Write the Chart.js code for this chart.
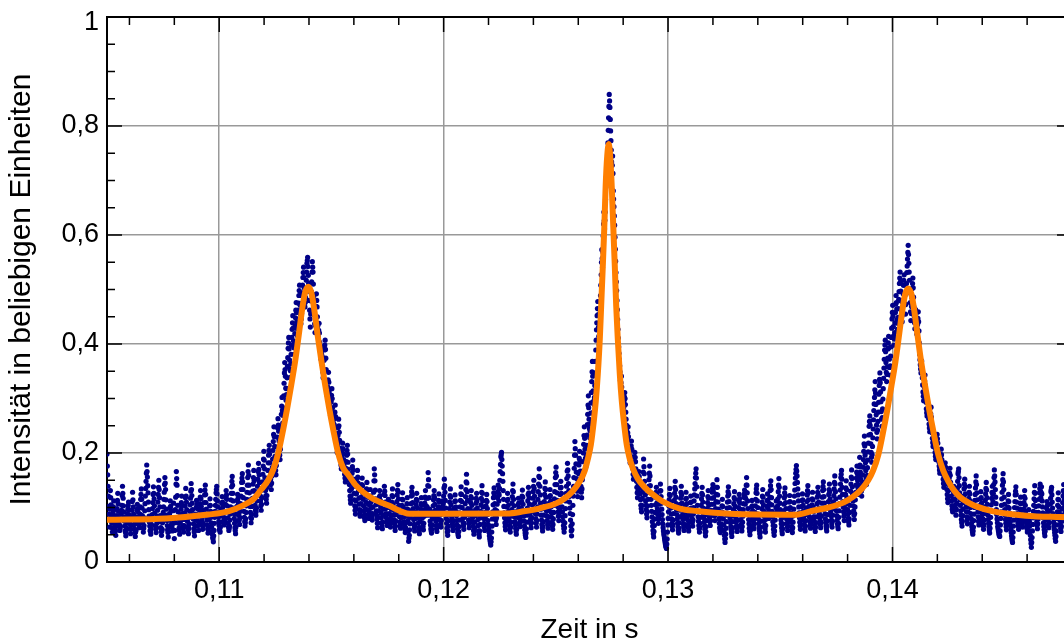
<!DOCTYPE html>
<html lang="de">
<head>
<meta charset="utf-8">
<title>Intensität über der Zeit</title>
<script src="https://cdn.jsdelivr.net/npm/chart.js@4/dist/chart.umd.min.js"></script>
<style>
  html, body { margin: 0; padding: 0; background: #fff; overflow: hidden; }
  #wrap { width: 1064px; height: 644px; overflow: hidden; }
  canvas { display: block; }
</style>
</head>
<body>
<div id="wrap"><canvas id="chart" width="1100" height="647" style="width:1100px;height:647px"></canvas></div>
<script>
// Sample clock of the recorded trace (seconds)
const timeStart = 0.105;
const samplePeriod = 0.000015;

// Recorded intensity in thousandths of the arbitrary unit.
// The record is kept in two halves: even-numbered and odd-numbered samples.
const intensityEvenMilli = [
  198,160,121,88,64,131,105,72,55,90,112,84,61,49,77,98,126,93,70,58,
  66,88,104,139,117,92,75,57,48,63,81,97,110,86,70,52,68,95,128,101,
  79,61,47,58,83,106,92,74,63,88,115,134,99,72,55,67,94,121,148,178,
  156,127,96,73,58,51,69,87,109,138,116,90,66,54,71,95,124,150,118,85,
  63,49,60,82,101,128,155,133,97,76,59,46,65,89,112,94,70,57,81,108,
  43,72,119,166,141,104,80,62,51,74,97,121,89,67,55,78,103,135,110,84,
  65,52,70,93,117,144,122,96,79,61,48,66,88,113,98,75,58,84,107,131,
  102,77,60,71,95,123,141,109,86,68,53,64,90,116,93,72,56,45,37,58,
  82,104,127,139,112,91,74,60,55,73,97,120,101,83,68,79,106,131,115,92,
  71,58,66,88,114,138,157,126,99,80,63,52,75,102,124,109,86,69,93,121,
  146,162,133,104,82,66,79,103,128,155,178,141,114,91,72,88,117,143,168,131,
  104,86,99,126,152,181,160,132,112,95,118,147,176,203,171,140,122,108,137,168,
  196,214,182,151,133,158,189,221,248,212,177,160,194,229,263,240,205,188,226,271,
  302,255,283,328,366,341,297,318,359,392,412,371,339,364,398,427,452,406,381,419,
  448,476,441,415,462,489,508,471,437,456,494,522,541,503,468,485,517,548,559,526,
  497,462,431,479,514,551,532,488,453,421,447,492,468,433,412,438,403,386,372,395,
  361,338,352,389,407,374,333,306,321,348,312,287,269,294,318,283,256,241,263,288,
  247,223,201,232,262,238,209,186,171,195,218,199,178,161,147,172,196,214,183,158,
  142,121,108,134,163,187,152,126,103,88,112,139,168,145,117,96,84,107,131,154,
  127,103,86,76,98,122,146,119,95,80,104,133,110,88,77,101,128,171,149,116,
  94,79,63,82,107,131,113,90,72,61,86,109,139,122,98,81,67,88,115,100,
  78,64,85,110,134,106,87,70,58,75,99,123,142,116,93,73,62,81,104,127,
  101,83,66,54,72,97,118,76,38,49,70,94,121,137,109,88,69,57,80,105,
  126,100,81,63,52,74,96,118,91,72,59,84,108,131,103,86,117,164,139,97,
  75,61,53,68,92,114,131,106,84,67,56,79,101,125,96,77,64,88,112,93,
  121,152,128,99,80,62,49,66,87,110,134,105,83,70,58,76,99,123,101,85,
  68,54,47,65,90,113,138,111,89,72,60,82,107,133,161,129,98,77,63,86,
  109,131,104,81,66,51,62,85,108,126,99,78,57,46,69,93,117,140,112,90,
  71,58,80,103,124,98,76,61,48,39,31,44,66,92,118,136,107,85,69,94,
  118,141,112,135,166,193,201,176,148,115,90,72,59,77,101,126,104,83,67,55,
  73,96,120,143,115,92,74,62,51,70,94,117,99,80,65,87,111,132,106,84,
  66,53,45,61,86,112,137,118,95,78,63,81,105,129,150,121,97,79,64,88,
  115,143,171,139,108,86,69,57,74,98,124,147,119,93,76,62,83,108,133,112,
  91,73,60,79,104,129,155,174,142,113,92,76,97,124,148,126,101,83,67,55,
  72,98,126,153,181,158,131,110,89,66,48,70,104,139,172,221,196,165,141,120,
  146,178,203,167,139,118,151,184,216,248,207,174,196,233,271,305,262,228,254,292,
  331,368,314,276,302,347,389,426,452,478,431,398,436,489,527,573,541,598,642,611,
  642,688,725,703,769,815,858,834,791,756,712,745,681,652,618,574,531,498,463,427,
  395,372,349,318,341,302,284,273,296,311,289,262,241,226,248,213,197,182,205,222,
  193,171,152,168,201,184,159,137,118,143,166,148,125,104,92,117,141,189,162,134,
  112,96,81,103,128,151,176,140,115,93,74,58,46,67,91,119,137,109,87,71,
  94,118,143,120,97,78,63,52,44,36,29,25,42,68,92,114,135,110,88,71,
  59,77,101,126,148,119,96,79,64,53,72,95,117,139,108,87,70,58,81,104,
  128,107,85,69,57,74,98,121,99,80,66,88,112,134,155,171,138,104,83,67,
  55,71,93,116,137,110,89,73,60,48,65,87,109,131,104,82,67,85,106,128,
  142,118,95,76,98,124,151,123,97,79,63,54,70,92,115,90,68,49,36,51,
  74,99,121,138,111,89,72,59,47,63,85,107,129,102,81,66,56,77,100,124,
  108,86,69,57,73,96,119,132,106,128,155,127,98,78,62,50,67,90,113,94,
  75,61,80,103,127,141,112,88,71,58,46,64,87,110,133,105,84,68,55,79,
  102,125,99,80,107,131,149,118,93,74,60,49,66,89,112,88,103,129,153,121,
  96,77,63,52,70,94,118,136,109,87,71,58,75,98,122,100,81,65,54,73,
  97,121,144,163,177,158,134,112,90,73,60,79,102,125,104,84,68,57,76,99,
  123,140,114,91,74,62,81,105,128,101,83,67,56,72,95,119,137,110,89,76,
  63,84,108,131,147,120,97,79,66,57,75,99,124,143,116,93,77,64,86,110,
  134,158,129,103,85,70,61,82,107,132,155,168,137,111,92,76,99,124,149,118,
  96,80,68,91,117,143,169,138,112,94,78,101,128,154,176,149,124,158,192,165,
  139,121,147,174,203,231,196,168,142,159,187,218,249,268,234,201,183,212,244,278,
  302,331,289,251,226,258,293,324,347,312,276,249,281,318,356,389,407,366,331,358,
  391,414,372,343,378,412,446,471,432,398,421,458,489,464,427,449,482,511,532,497,
  462,441,476,508,527,489,455,492,531,556,581,548,517,476,443,469,502,521,486,451,
  428,463,447,418,436,459,424,381,362,347,369,338,312,296,321,343,305,281,268,292,
  274,253,239,261,284,248,227,212,235,219,201,188,209,234,218,193,176,163,184,207,
  188,171,152,137,159,182,166,143,124,109,131,154,172,146,121,103,92,115,139,126,
  104,86,108,135,162,171,140,114,94,78,66,85,109,134,152,125,101,83,70,92,
  117,139,112,89,71,59,51,64,88,113,136,158,127,102,83,68,80,104,129,108,
  88,72,60,77,101,125,146,118,95,78,64,53,71,94,117,139,111,142,169,147,
  119,96,79,65,57,50,47,68,92,116,141,162,133,106,86,71,59,78,101,124,
  99,81,66,54,43,36,55,77,100,123,138,110,89,72,60,74,97,119,96,79,
  64,86,109,131,104,83,68,55,73,96,75,57,41,27,45,69,93,116,140,113,
  91,74,61,79,103,127,143,118,138,112,90,72,59,48,66,88,111,95,77,63,
  82,106,129,137,110,89,73,60,49,38,57,80,104,127,101,84,69,56,75,98,
  121,142,115,92,74,61,52,70,94,118,99,80,66,87
];
const intensityOddMilli = [
  176,139,102,79,97,118,86,63,74,101,96,70,57,66,85,113,107,80,66,62,
  79,95,122,126,103,83,66,54,58,72,89,104,96,78,61,60,82,111,114,88,
  69,54,55,71,95,98,81,68,77,101,124,115,85,63,62,81,107,135,163,166,
  140,110,84,66,56,61,78,98,124,126,103,78,60,63,84,110,137,133,101,74,
  56,57,72,91,115,142,145,114,86,67,54,56,77,100,102,81,64,70,94,76,
  58,96,143,153,122,92,71,58,63,86,109,104,78,62,67,90,118,121,96,75,
  59,62,82,105,130,133,108,87,70,55,58,77,100,105,86,67,72,95,119,116,
  89,68,66,84,109,132,124,97,77,61,59,78,103,104,82,64,51,42,48,71,
  93,115,133,125,101,82,67,58,64,85,108,110,92,76,74,92,118,123,103,81,
  64,62,77,101,126,148,141,112,89,71,58,64,88,113,116,97,77,81,107,133,
  154,147,118,93,74,72,91,115,141,166,159,127,102,82,80,102,130,155,149,117,
  95,92,112,139,166,170,146,122,103,106,132,161,189,187,155,131,115,122,152,182,
  205,198,166,142,145,173,205,234,230,194,168,177,211,246,251,222,196,207,248,286,
  278,269,305,347,353,319,307,338,375,402,391,355,351,381,412,439,429,393,400,433,
  462,458,428,438,475,498,489,454,446,475,508,531,522,485,476,501,532,553,542,511,
  480,446,455,496,532,541,510,470,437,434,469,480,450,422,425,420,394,379,383,378,
  349,345,370,398,390,353,319,313,334,330,299,278,281,306,300,269,248,252,275,267,
  235,212,216,247,250,223,197,178,183,206,208,188,169,154,159,184,205,198,170,150,
  131,114,121,148,175,169,139,114,95,100,125,153,156,131,106,90,95,119,142,140,
  115,94,81,87,110,134,132,107,87,92,118,121,99,82,89,114,149,160,132,105,
  86,71,72,94,119,122,101,81,66,73,97,124,130,110,89,74,77,101,107,89,
  71,74,97,122,120,96,78,64,66,87,111,132,129,104,83,67,71,92,115,114,
  92,74,60,63,84,107,97,57,44,59,82,107,129,123,98,78,63,68,92,115,
  113,90,72,57,63,85,107,104,81,65,71,96,119,117,94,101,140,151,118,86,
  68,57,60,80,103,122,118,95,75,61,67,90,113,110,86,70,76,100,102,107,
  136,140,113,89,71,55,57,76,98,122,119,94,76,64,67,88,111,112,93,76,
  61,50,56,77,101,125,124,100,80,66,71,94,120,147,145,113,87,70,74,97,
  120,117,92,73,58,56,73,96,117,112,88,67,51,57,81,105,128,126,101,80,
  64,69,91,113,111,87,68,54,43,35,37,55,79,105,127,121,96,77,81,106,
  129,126,123,150,179,197,188,162,131,102,81,65,68,89,113,115,93,75,61,64,
  84,108,131,129,103,83,68,56,60,82,105,108,89,72,76,99,121,119,95,75,
  59,49,53,73,99,124,127,106,86,70,72,93,117,139,135,109,88,71,76,101,
  129,157,155,123,97,77,63,65,86,111,135,133,106,84,69,72,95,120,122,101,
  82,66,69,91,116,142,164,158,127,102,84,86,110,136,137,113,92,75,61,63,
  85,112,139,167,169,144,120,99,77,57,59,87,121,155,196,208,180,153,130,133,
  162,190,185,153,128,134,167,200,232,227,190,185,214,252,288,283,245,241,273,311,
  349,341,295,289,324,368,407,439,465,454,414,417,462,508,550,557,569,620,626,627,
  665,706,714,736,792,836,846,812,773,734,728,713,666,635,596,552,514,480,445,411,
  383,360,333,329,321,293,278,284,303,300,275,251,233,237,230,205,189,193,213,207,
  182,161,160,184,192,171,148,127,130,154,157,136,114,98,104,129,165,175,148,123,
  104,88,92,115,139,163,158,127,104,83,66,52,56,79,105,128,123,98,79,82,
  106,130,131,108,87,70,57,48,40,32,27,33,55,80,103,124,122,99,79,65,
  68,89,113,137,133,107,87,71,58,62,83,106,128,123,97,78,64,69,92,116,
  117,96,77,63,65,86,109,110,89,73,77,100,123,144,163,154,121,93,75,61,
  63,82,104,126,123,99,81,66,54,56,76,98,120,117,93,74,76,95,117,135,
  130,106,85,87,111,137,137,110,88,71,58,62,81,103,102,79,58,42,43,62,
  86,110,129,124,100,80,65,53,55,74,96,118,115,91,73,61,66,88,112,116,
  97,77,63,65,84,107,125,119,117,141,141,112,88,70,56,58,78,101,103,84,
  68,70,91,115,134,126,100,79,64,52,55,75,98,121,119,94,76,61,67,90,
  113,112,89,93,119,140,133,105,83,67,54,57,77,100,100,95,116,141,137,108,
  86,70,57,61,82,106,127,122,98,79,64,66,86,110,111,90,73,59,63,85,
  109,132,154,170,167,146,123,101,81,66,69,90,113,114,94,76,62,66,87,111,
  131,127,102,82,68,71,93,116,114,92,75,61,64,83,107,128,123,99,82,69,
  73,96,119,139,133,108,88,72,61,66,87,111,133,129,104,85,70,75,98,122,
  146,143,116,94,77,65,71,94,119,143,161,152,124,101,84,87,111,136,133,107,
  88,74,79,104,130,156,153,125,103,86,89,114,141,165,162,136,141,175,178,152,
  130,134,160,188,217,213,182,155,150,173,202,233,258,251,217,192,197,228,261,290,
  316,310,270,238,242,275,308,335,329,294,262,265,299,337,372,398,386,348,344,374,
  402,393,357,360,395,429,458,451,415,409,439,473,476,445,438,465,496,521,514,479,
  451,458,492,517,508,472,473,511,543,568,564,532,496,459,456,485,511,503,468,439,
  445,455,432,427,447,441,402,371,354,358,353,325,304,308,332,324,293,274,280,283,
  263,246,250,272,266,237,219,223,227,210,194,198,221,226,205,184,169,173,195,197,
  179,161,144,148,170,174,154,133,116,120,142,163,159,133,112,97,103,127,132,115,
  95,97,121,148,166,155,127,104,86,72,75,97,121,143,138,113,92,76,81,104,
  128,125,100,80,65,55,57,76,100,124,147,142,114,92,75,74,92,116,118,98,
  80,66,68,89,113,135,132,106,86,71,58,62,82,105,128,125,126,155,158,133,
  107,87,72,61,53,48,57,80,104,128,151,147,119,96,78,65,68,89,112,111,
  90,73,60,48,39,45,66,88,111,130,124,99,80,66,67,85,108,107,87,71,
  75,97,120,117,93,75,61,64,84,85,66,49,34,36,57,81,104,128,126,102,
  82,67,70,91,115,135,130,128,125,101,81,65,53,57,77,99,103,86,70,72,
  94,117,133,123,99,81,66,54,43,47,68,92,115,114,92,76,62,65,86,109,
  131,128,103,83,67,56,61,82,106,108,89,73,76,80
];

// Fitted curve (three peaks on a flat background)
const fitTime = [
  0.10500, 0.10764, 0.10951, 0.11040, 0.11107, 0.11152, 0.11187, 0.11218, 0.11241, 0.11263,
  0.11285, 0.11303, 0.11321, 0.11339, 0.11354, 0.11370, 0.11383, 0.11397, 0.11410, 0.11423,
  0.11439, 0.11455, 0.11472, 0.11490, 0.11508, 0.11530, 0.11553, 0.11575, 0.11606, 0.11642,
  0.11686, 0.11753, 0.11849, 0.12004, 0.12281,
  0.12357, 0.12428, 0.12504, 0.12540, 0.12575, 0.12607, 0.12629, 0.12642, 0.12656, 0.12669,
  0.12678, 0.12687, 0.12696, 0.12702, 0.12709, 0.12716, 0.12722, 0.12729, 0.12736, 0.12742,
  0.12749, 0.12756, 0.12763, 0.12769, 0.12776, 0.12785, 0.12794, 0.12803, 0.12816, 0.12829,
  0.12843, 0.12865, 0.12896, 0.12932, 0.12976, 0.13052, 0.13128, 0.13275, 0.13571,
  0.13645, 0.13714, 0.13781, 0.13825, 0.13861, 0.13892, 0.13914, 0.13937, 0.13959, 0.13977,
  0.13995, 0.14013, 0.14028, 0.14044, 0.14057, 0.14070, 0.14084, 0.14097, 0.14113, 0.14128,
  0.14146, 0.14164, 0.14182, 0.14204, 0.14226, 0.14249, 0.14275, 0.14302, 0.14338, 0.14373,
  0.14449, 0.14596, 0.14746, 0.14800
];
const fitIntensity = [
  0.0775, 0.080, 0.087, 0.093, 0.104, 0.115, 0.133, 0.150, 0.170, 0.200,
  0.243, 0.282, 0.325, 0.370, 0.415, 0.465, 0.495, 0.505, 0.495, 0.465,
  0.415, 0.370, 0.325, 0.282, 0.243, 0.200, 0.172, 0.160, 0.142, 0.128,
  0.116, 0.104, 0.0885, 0.0885, 0.089,
  0.093, 0.0985, 0.108, 0.117, 0.130, 0.148, 0.168, 0.188, 0.215, 0.258,
  0.295, 0.345, 0.410, 0.470, 0.540, 0.615, 0.690, 0.745, 0.767, 0.745,
  0.690, 0.615, 0.540, 0.470, 0.410, 0.345, 0.295, 0.258, 0.215, 0.190,
  0.172, 0.153, 0.137, 0.124, 0.111, 0.098, 0.0935, 0.0885, 0.0868,
  0.094, 0.100, 0.109, 0.120, 0.133, 0.150, 0.168, 0.197, 0.240, 0.279,
  0.322, 0.367, 0.412, 0.462, 0.492, 0.502, 0.492, 0.462, 0.412, 0.367,
  0.322, 0.279, 0.240, 0.197, 0.168, 0.148, 0.131, 0.119, 0.109, 0.102,
  0.093, 0.085, 0.0825, 0.082
];

// Axis ticks
const xTicks = [0.11, 0.12, 0.13, 0.14];
const yTicks = [0, 0.2, 0.4, 0.6, 0.8, 1];
const xMinorStep = 0.002;
const yMinorStep = 0.05;

const FAMILY = '"Liberation Sans", Arial, Helvetica, sans-serif';
const TICK_SIZE = 27;

// Re-interleave the two halves into one time-ordered record
const samplePoints = [];
intensityEvenMilli.forEach((v, i) => {
  samplePoints.push({ x: timeStart + 2 * i * samplePeriod, y: v / 1000 });
  if (i < intensityOddMilli.length) {
    samplePoints.push({ x: timeStart + (2 * i + 1) * samplePeriod, y: intensityOddMilli[i] / 1000 });
  }
});
const fitPoints = fitTime.map((t, i) => ({ x: t, y: fitIntensity[i] }));

const decimalComma = v => String(Math.round(v * 1000) / 1000).replace('.', ',');
const yTop = yTicks[yTicks.length - 1];

// Closed frame with inward major/minor tick marks; the top y label sits just inside the frame
const framePlugin = {
  id: 'frame',
  afterDraw(chart) {
    const { ctx, chartArea: a, scales: { x, y } } = chart;
    ctx.save();
    ctx.strokeStyle = '#000';
    ctx.lineWidth = 2;
    ctx.beginPath();
    ctx.moveTo(a.left, a.top);
    ctx.lineTo(a.right, a.top);
    ctx.lineTo(a.right, a.bottom);
    ctx.stroke();

    ctx.lineWidth = 1.5;
    ctx.beginPath();
    const kx0 = Math.ceil(x.min / xMinorStep - 1e-9);
    const kx1 = Math.floor(x.max / xMinorStep + 1e-9);
    for (let k = kx0; k <= kx1; k++) {
      const v = k * xMinorStep;
      const major = xTicks.some(t => Math.abs(t - v) < 1e-9);
      const len = major ? 15 : 8;
      const px = x.getPixelForValue(v);
      ctx.moveTo(px, a.bottom); ctx.lineTo(px, a.bottom - len);
      ctx.moveTo(px, a.top); ctx.lineTo(px, a.top + len);
    }
    const ky1 = Math.round(y.max / yMinorStep);
    for (let k = 0; k <= ky1; k++) {
      const v = k * yMinorStep;
      const major = yTicks.some(t => Math.abs(t - v) < 1e-9);
      const len = major ? 15 : 8;
      const py = y.getPixelForValue(v);
      ctx.moveTo(a.left, py); ctx.lineTo(a.left + len, py);
      ctx.moveTo(a.right, py); ctx.lineTo(a.right - len, py);
    }
    ctx.stroke();

    ctx.fillStyle = '#000';
    ctx.font = `${TICK_SIZE}px ${FAMILY}`;
    ctx.textAlign = 'right';
    ctx.textBaseline = 'middle';
    ctx.fillText(decimalComma(yTop), a.left - 8, y.getPixelForValue(yTop) + 6);
    ctx.restore();
  }
};

new Chart(document.getElementById('chart'), {
  type: 'scatter',
  data: {
    datasets: [
      {
        label: 'Anpassung',
        data: fitPoints,
        showLine: true,
        borderColor: '#ff7f00',
        borderWidth: 6,
        borderCapStyle: 'round',
        borderJoinStyle: 'round',
        cubicInterpolationMode: 'monotone',
        pointRadius: 0,
        fill: false
      },
      {
        label: 'Messwerte',
        data: samplePoints,
        showLine: false,
        pointRadius: 2.6,
        pointBorderWidth: 0,
        backgroundColor: '#000088',
        pointHoverRadius: 0
      }
    ]
  },
  options: {
    responsive: false,
    animation: false,
    devicePixelRatio: 1,
    events: [],
    layout: { padding: { top: 17, right: 28, left: 0, bottom: 0 } },
    plugins: { legend: { display: false }, tooltip: { enabled: false } },
    scales: {
      x: {
        type: 'linear',
        min: 0.105,
        max: 0.148,
        afterBuildTicks: s => { s.ticks = xTicks.map(v => ({ value: v })); },
        afterFit: s => { s.height = 85; s.paddingLeft = 0; s.paddingRight = 0; },
        ticks: {
          callback: v => decimalComma(v),
          font: { family: FAMILY, size: TICK_SIZE },
          color: '#000',
          padding: 12,
          maxRotation: 0,
          autoSkip: false
        },
        grid: { color: '#999', lineWidth: 1.5, drawTicks: false },
        border: { color: '#000', width: 2 },
        title: {
          display: true,
          text: 'Zeit in s',
          font: { family: FAMILY, size: 28 },
          color: '#000',
          padding: 0
        }
      },
      y: {
        type: 'linear',
        min: 0,
        max: 1,
        afterBuildTicks: s => { s.ticks = yTicks.map(v => ({ value: v })); },
        afterFit: s => { s.width = 107; s.paddingTop = 0; s.paddingBottom = 0; },
        ticks: {
          callback: v => (v === yTop ? '' : decimalComma(v)),
          font: { family: FAMILY, size: TICK_SIZE },
          color: '#000',
          padding: 8
        },
        grid: { color: '#999', lineWidth: 1.5, drawTicks: false },
        border: { color: '#000', width: 2 },
        title: {
          display: true,
          text: 'Intensität in beliebigen Einheiten',
          font: { family: FAMILY, size: 30 },
          color: '#000',
          padding: { top: 4, bottom: 0 }
        }
      }
    }
  },
  plugins: [framePlugin]
});
</script>
</body>
</html>
